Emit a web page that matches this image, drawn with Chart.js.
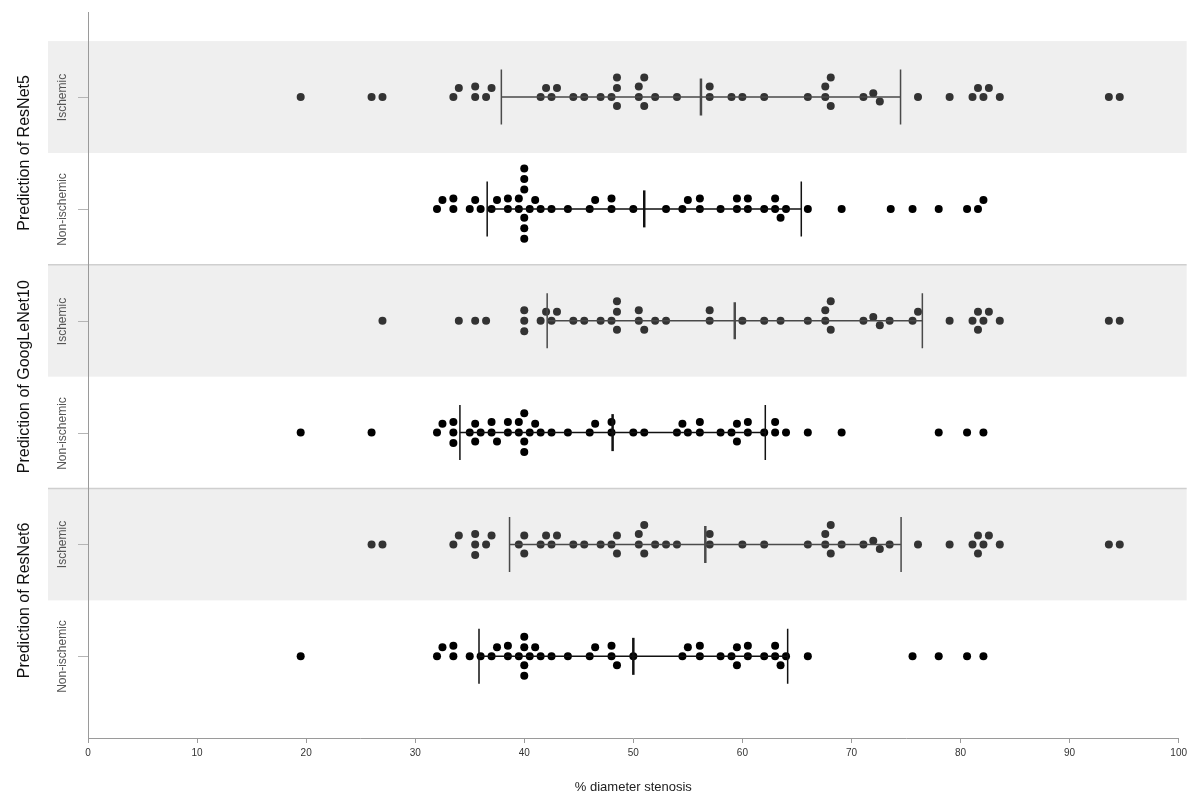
<!DOCTYPE html>
<html>
<head>
<meta charset="utf-8">
<script src="https://cdn.jsdelivr.net/npm/chart.js@4.4.1/dist/chart.umd.min.js"></script>
<style>
  html, body { margin: 0; padding: 0; background: #fff; }
</style>
</head>
<body>
<canvas id="chart" width="1191" height="794"></canvas>
<script>
// categories
const models = ['ResNet5', 'GoogLeNet10', 'ResNet6'];
const groups = ['Ischemic', 'Non-ischemic'];
const xTicks = [0, 10, 20, 30, 40, 50, 60, 70, 80, 90, 100];

// % diameter stenosis per row
const resnet5Ischemic = [19.5, 26, 27, 33.5, 34, 35.5, 35.5, 36.5, 37, 41.5, 42, 42.5, 43, 44.5, 45.5, 47, 48, 48.5, 48.5, 48.5, 50.5, 50.5, 51, 51, 52, 54, 57, 57, 59, 60, 62, 66, 67.6, 67.6, 68.1, 68.1, 71.1, 72, 72.6, 76.1, 79, 81.1, 81.6, 82.1, 82.6, 83.6, 93.6, 94.6];
const resnet5NonIschemic = [32, 32.5, 33.5, 33.5, 35, 35.5, 36, 37, 37.5, 38.5, 38.5, 39.5, 39.5, 40, 40, 40, 40, 40, 40, 40.5, 41, 41.5, 42.5, 44, 46, 46.5, 48, 48, 50, 53, 54.5, 55, 56.1, 56.1, 58, 59.5, 59.5, 60.5, 60.5, 62, 63, 63, 63.5, 64, 66, 69.1, 73.6, 75.6, 78, 80.6, 81.6, 82.1];
const googIschemic = [27, 34, 35.5, 36.5, 40, 40, 40, 41.5, 42, 42.5, 43, 44.5, 45.5, 47, 48, 48.5, 48.5, 48.5, 50.5, 50.5, 51, 52, 53, 57, 57, 60, 62, 63.5, 66, 67.6, 67.6, 68.1, 68.1, 71.1, 72, 72.6, 73.5, 75.6, 76.1, 79, 81.1, 81.6, 81.6, 82.1, 82.6, 83.6, 93.6, 94.6];
const googNonIschemic = [19.5, 26, 32, 32.5, 33.5, 33.5, 33.5, 35, 35.5, 35.5, 36, 37, 37, 37.5, 38.5, 38.5, 39.5, 39.5, 40, 40, 40, 40.5, 41, 41.5, 42.5, 44, 46, 46.5, 48, 48, 50, 51, 54, 54.5, 55, 56.1, 56.1, 58, 59, 59.5, 59.5, 60.5, 60.5, 62, 63, 63, 64, 66, 69.1, 78, 80.6, 82.1];
const resnet6Ischemic = [26, 27, 33.5, 34, 35.5, 35.5, 35.5, 36.5, 37, 39.5, 40, 40, 41.5, 42, 42.5, 43, 44.5, 45.5, 47, 48, 48.5, 48.5, 50.5, 50.5, 51, 51, 52, 53, 54, 57, 57, 60, 62, 66, 67.6, 67.6, 68.1, 68.1, 69.1, 71.1, 72, 72.6, 73.5, 76.1, 79, 81.1, 81.6, 81.6, 82.1, 82.6, 83.6, 93.6, 94.6];
const resnet6NonIschemic = [19.5, 32, 32.5, 33.5, 33.5, 35, 36, 37, 37.5, 38.5, 38.5, 39.5, 40, 40, 40, 40, 40.5, 41, 41.5, 42.5, 44, 46, 46.5, 48, 48, 48.5, 50, 54.5, 55, 56.1, 56.1, 58, 59, 59.5, 59.5, 60.5, 60.5, 62, 63, 63, 63.5, 64, 66, 75.6, 78, 80.6, 82.1];

// mean and SD markers per row
const meanValues = [56.2, 51.0, 59.3, 48.1, 56.6, 50.0];
const sdValues = [18.3, 14.4, 17.2, 14.0, 17.95, 14.15];

const rowValues = [resnet5Ischemic, resnet5NonIschemic, googIschemic, googNonIschemic, resnet6Ischemic, resnet6NonIschemic];
const rows = [];
models.forEach(m => groups.forEach(g => rows.push({ model: m, group: g })));

const FONT = "'Liberation Sans', Arial, sans-serif";
const NARROW = "'Liberation Sans Narrow', 'Liberation Sans', Arial, sans-serif";

function dotColor(i) {
    return rows[i].group === 'Ischemic' ? '#333333' : '#000000';
}

// background bands, separators, y axis and row labels
const framePlugin = {
    id: 'frame',
    beforeDatasetsDraw(chart) {
        const { ctx, chartArea, scales: { y } } = chart;
        const left = chartArea.left - 40;
        const right = chartArea.right + 8;
        ctx.save();
        rows.forEach((r, i) => {
            if (r.group !== 'Ischemic') return;
            const top = y.getPixelForValue(i - 0.5);
            const bottom = y.getPixelForValue(i + 0.5);
            ctx.fillStyle = '#efefef';
            ctx.fillRect(left, top, right - left, bottom - top);
        });
        // lines between models
        ctx.strokeStyle = '#cfcfcf';
        ctx.lineWidth = 1.5;
        for (let k = 1; k < models.length; k++) {
            const yy = y.getPixelForValue(k * 2 - 0.5);
            ctx.beginPath();
            ctx.moveTo(left, yy);
            ctx.lineTo(right, yy);
            ctx.stroke();
        }
        // y axis line
        ctx.strokeStyle = '#9a9a9a';
        ctx.lineWidth = 1;
        ctx.beginPath();
        ctx.moveTo(chartArea.left + 0.5, chartArea.top);
        ctx.lineTo(chartArea.left + 0.5, chartArea.bottom);
        ctx.stroke();
        // row ticks and labels
        ctx.strokeStyle = '#b5b5b5';
        rows.forEach((r, i) => {
            const yy = Math.round(y.getPixelForValue(i)) + 0.5;
            ctx.beginPath();
            ctx.moveTo(chartArea.left - 10, yy);
            ctx.lineTo(chartArea.left, yy);
            ctx.stroke();
            ctx.save();
            ctx.translate(chartArea.left - 25, yy);
            ctx.rotate(-Math.PI / 2);
            ctx.fillStyle = '#555';
            ctx.font = '12px ' + FONT;
            ctx.textAlign = 'center';
            ctx.textBaseline = 'middle';
            ctx.fillText(r.group, 0, 0);
            ctx.restore();
        });
        models.forEach((m, k) => {
            const yy = y.getPixelForValue(k * 2 + 0.5);
            ctx.save();
            ctx.translate(25, yy);
            ctx.rotate(-Math.PI / 2);
            ctx.fillStyle = '#111';
            ctx.font = '16px ' + FONT;
            ctx.textAlign = 'center';
            ctx.textBaseline = 'middle';
            ctx.fillText('Prediction of ' + m, 0, 0);
            ctx.restore();
        });
        ctx.restore();
    },
    // mean +/- SD markers
    afterDatasetsDraw(chart) {
        const { ctx, scales: { x, y } } = chart;
        ctx.save();
        meanValues.forEach((mean, i) => {
            const isch = rows[i].group === 'Ischemic';
            const yy = y.getPixelForValue(i);
            const x0 = x.getPixelForValue(mean - sdValues[i]);
            const x1 = x.getPixelForValue(mean + sdValues[i]);
            const xm = x.getPixelForValue(mean);
            ctx.strokeStyle = isch ? '#4a4a4a' : '#111';
            ctx.lineWidth = 1.5;
            ctx.beginPath();
            ctx.moveTo(x0, yy);
            ctx.lineTo(x1, yy);
            ctx.moveTo(x0, yy - 27.5);
            ctx.lineTo(x0, yy + 27.5);
            ctx.moveTo(x1, yy - 27.5);
            ctx.lineTo(x1, yy + 27.5);
            ctx.stroke();
            ctx.lineWidth = 2.5;
            ctx.beginPath();
            ctx.moveTo(xm, yy - 18.5);
            ctx.lineTo(xm, yy + 18.5);
            ctx.stroke();
        });
        ctx.restore();
    }
};

// simple beeswarm: place each dot as close to the row centre as possible
function swarm(values, rowIndex, xScale, yScale, gap) {
    const placed = [];
    const yc = yScale.getPixelForValue(rowIndex);
    values.slice().sort((a, b) => a - b).forEach(v => {
        const px = xScale.getPixelForValue(v);
        const near = placed.filter(p => Math.abs(p.x - px) < gap);
        const cands = [0];
        near.forEach(p => {
            const dy = Math.sqrt(gap * gap - (p.x - px) * (p.x - px));
            cands.push(p.y - dy, p.y + dy);
        });
        cands.sort((a, b) => Math.abs(a) - Math.abs(b) || a - b);
        const off = cands.find(c => near.every(p => (p.x - px) ** 2 + (p.y - c) ** 2 >= gap * gap - 0.01));
        placed.push({ x: px, y: off });
    });
    return placed.map(p => ({ x: xScale.getValueForPixel(p.x), y: yScale.getValueForPixel(yc + p.y) }));
}

const ctx = document.getElementById('chart').getContext('2d');
const chart = new Chart(ctx, {
    type: 'scatter',
    data: {
        datasets: rows.map((r, i) => ({
            label: r.model + ' ' + r.group,
            data: [],
            backgroundColor: dotColor(i),
            borderWidth: 0,
            pointRadius: 4,
            pointHoverRadius: 4
        }))
    },
    options: {
        responsive: false,
        animation: false,
        layout: { padding: { left: 88, right: 11, top: 12, bottom: 0 } },
        plugins: {
            legend: { display: false },
            tooltip: { enabled: false }
        },
        scales: {
            x: {
                type: 'linear',
                min: 0,
                max: 100,
                afterBuildTicks: s => { s.ticks = xTicks.map(v => ({ value: v })); },
                afterFit: s => { s.height = 56; },
                ticks: {
                    color: '#333',
                    font: { family: NARROW, size: 10 },
                    padding: 4
                },
                grid: {
                    drawOnChartArea: false,
                    drawTicks: true,
                    tickLength: 5,
                    color: '#9a9a9a'
                },
                border: { color: '#9a9a9a', width: 1 },
                title: {
                    display: true,
                    text: '% diameter stenosis',
                    color: '#222',
                    font: { family: NARROW, size: 13 },
                    padding: { top: 4, bottom: -1 }
                }
            },
            y: {
                type: 'linear',
                min: -0.76,
                max: 5.73,
                reverse: true,
                display: false
            }
        }
    },
    plugins: [framePlugin]
});

chart.data.datasets.forEach((ds, i) => {
    ds.data = swarm(rowValues[i], i, chart.scales.x, chart.scales.y, 10.5);
});
chart.update('none');
</script>
</body>
</html>
